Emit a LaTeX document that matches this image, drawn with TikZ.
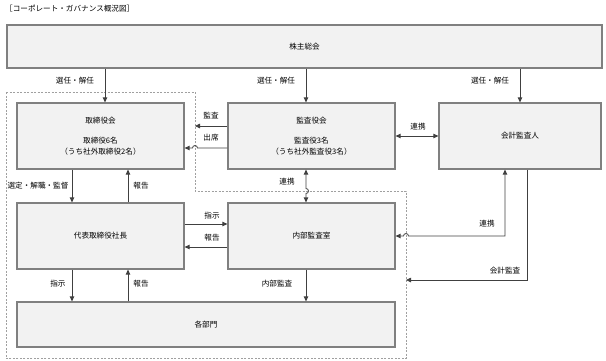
\documentclass[tikz,border=0pt]{standalone}
\usepackage{fontspec}
\setmainfont{Noto Sans CJK JP}
\usetikzlibrary{arrows.meta}
\definecolor{boxline}{HTML}{808080}
\definecolor{boxfill}{HTML}{F2F2F2}
\definecolor{wire}{HTML}{404040}
\definecolor{fenceline}{HTML}{A0A0A0}

\begin{document}
\begin{tikzpicture}[x=1pt,y=-1pt,>={Triangle[length=5pt,width=4.5pt]},
  font=\fontsize{7.6}{11}\selectfont,
  body/.style={draw=boxline,line width=1.2pt,fill=boxfill,inner sep=0pt,align=center,text=black},
  arr/.style={->,wire,line width=0.8pt},
  biarr/.style={<->,wire,line width=0.8pt},
  lbl/.style={inner sep=0pt,text=black},
  fence/.style={fenceline,line width=0.7pt,dash pattern=on 2pt off 1.5pt}]
  \useasboundingbox (0,0) rectangle (606,360);
  \node[lbl,anchor=west] (title) at (5,9) {［コーポレート・ガバナンス概況図］};
  % dashed area
  \draw[fence] (6,92) -- (195,92) -- (195,191) -- (406,191) -- (406,358) -- (6,358) -- cycle;
  % boxes
  \node[body,minimum width=595pt,minimum height=43pt] (soukai) at (304.5,46.5) {株主総会};
  \node[body,minimum width=167pt,minimum height=66pt] (board) at (100.5,136)
     {取締役会\\[9pt]取締役6名\\（うち社外取締役2名）};
  \node[body,minimum width=167pt,minimum height=66pt] (kansa) at (311.5,136)
     {監査役会\\[9pt]監査役3名\\（うち社外監査役3名）};
  \node[body,minimum width=162pt,minimum height=66pt] (kaikei) at (520,136) {会計監査人};
  \node[body,minimum width=167pt,minimum height=66pt] (pres) at (100.5,236) {代表取締役社長};
  \node[body,minimum width=167pt,minimum height=66pt] (naibu) at (311.5,236) {内部監査室};
  \node[body,minimum width=378pt,minimum height=45pt] (bumon) at (206,324.5) {各部門};
  % helper coordinates
  \coordinate (xa) at (105,0);
  \coordinate (xb) at (306,0);
  \coordinate (xc) at (520,0);
  \coordinate (xd) at (505,0);
  \coordinate (xe) at (527,0);
  \coordinate (xl) at (72,0);
  \coordinate (xr) at (128,0);
  \coordinate (fenceE) at (195,0);
  \coordinate (fenceS) at (406,0);
  \coordinate (ya) at (0,126);
  \coordinate (yb) at (0,148);
  \coordinate (y1) at (0,224);
  \coordinate (y2) at (0,247);
  \coordinate (yk) at (0,236);
  \coordinate (yz) at (0,280);
  \coordinate (hop1) at (197.5,148);
  \coordinate (hop2) at (306,188.5);
  \coordinate (hop3) at (408.5,236);
  % from the shareholders
  \draw[arr] (soukai.south -| xa) -- (board.north -| xa);
  \draw[arr] (soukai.south -| xb) -- (kansa.north -| xb);
  \draw[arr] (soukai.south -| xc) -- (kaikei.north -| xc);
  \node[lbl] (sel1) at (75,81) {選任・解任};
  \node[lbl] (sel2) at (276,81) {選任・解任};
  \node[lbl] (sel3) at (490,81) {選任・解任};
  % audit board
  \draw[arr] (kansa.west |- ya) -- (fenceE |- ya);
  \draw[arr] (kansa.west |- yb) -- (hop1) arc[start angle=0,end angle=-180,radius=2.5] -- (board.east |- yb);
  \node[lbl] (audit) at (211,116) {監査};
  \node[lbl] (attend) at (211,138) {出席};
  \draw[biarr] (kansa.east) -- (kaikei.west);
  \node[lbl] (coop1) at (418,127) {連携};
  \draw[biarr] (kansa.south -| xb) -- (hop2) arc[start angle=-90,end angle=90,radius=2.5] -- (naibu.north -| xb);
  \node[lbl] (coop2) at (287,182) {連携};
  % board and president
  \draw[arr] (board.south -| xl) -- (pres.north -| xl);
  \draw[arr] (pres.north -| xr) -- (board.south -| xr);
  \node[lbl] (supv) at (38,186) {選定・解職・監督};
  \node[lbl] (rep1) at (141,186) {報告};
  % president and internal audit
  \draw[arr] (pres.east |- y1) -- (naibu.west |- y1);
  \draw[arr] (naibu.west |- y2) -- (pres.east |- y2);
  \node[lbl] (inst1) at (212,216) {指示};
  \node[lbl] (rep2) at (212,238) {報告};
  % to the departments
  \draw[arr] (pres.south -| xl) -- (bumon.north -| xl);
  \draw[arr] (bumon.north -| xr) -- (pres.south -| xr);
  \draw[arr] (naibu.south -| xb) -- (bumon.north -| xb);
  \node[lbl] (inst2) at (58,284) {指示};
  \node[lbl] (rep3) at (141,284) {報告};
  \node[lbl] (intaud) at (277,284) {内部監査};
  % accounting auditor
  \draw[biarr] (kaikei.south -| xd) |- (hop3) arc[start angle=0,end angle=-180,radius=2.5] -- (naibu.east |- yk);
  \node[lbl] (coop3) at (487,224) {連携};
  \draw[arr] (kaikei.south -| xe) |- (fenceS |- yz);
  \node[lbl] (acct) at (505,271) {会計監査};
\end{tikzpicture}
\end{document}
